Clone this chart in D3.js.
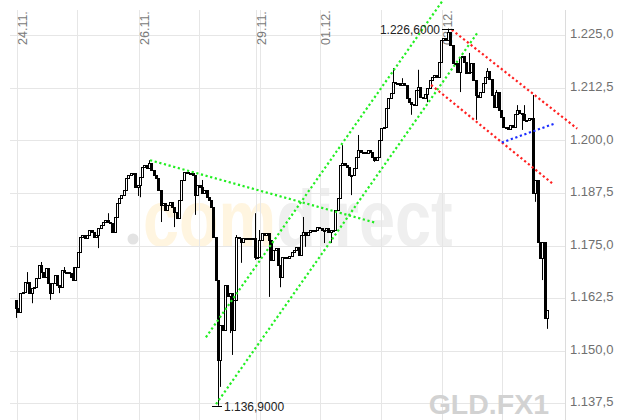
<!DOCTYPE html>
<html><head><meta charset="utf-8">
<script src="https://cdn.jsdelivr.net/npm/d3@7"></script>
<style>body{margin:0;background:#fff}svg{display:block}</style>
</head><body>
<svg id="chart" width="621" height="420"></svg>
<script>
// ---- data (GLD.FX1, prices) ----
const firstOpen = 1162.0;
const closes = [
1160.2,1159.2,1163.7,1164.0,1166.3,1166.3,1163.7,1164.9,1165.2,1167.3,
1170.4,1168.7,1167.5,1169.7,1166.1,1163.7,1166.1,1168.0,1165.6,1165.2,
1169.2,1168.7,1168.7,1168.5,1167.5,1166.8,1169.9,1173.5,1177.0,1177.5,
1176.8,1177.5,1178.7,1178.2,1177.0,1177.5,1179.2,1179.9,1180.6,1181.1,
1180.6,1180.4,1178.2,1181.8,1185.1,1186.3,1187.0,1188.2,1191.1,1191.8,
1192.3,1192.3,1188.9,1189.4,1191.3,1193.7,1194.2,1193.4,1194.6,1193.0,
1191.8,1191.1,1188.2,1184.6,1185.1,1183.5,1184.6,1185.4,1184.2,1183.0,
1181.6,1185.8,1190.6,1192.5,1192.5,1192.3,1192.3,1191.8,1187.0,1189.4,
1188.9,1187.5,1188.2,1186.5,1185.8,1184.2,1177.0,1166.8,1147.8,1156.1,
1155.0,1165.6,1163.0,1163.7,1155.0,1162.1,1177.0,1176.8,1175.9,1176.8,
1176.8,1176.8,1176.8,1176.8,1172.3,1172.3,1176.3,1178.0,1177.5,1178.0,
1176.3,1171.6,1173.9,1174.4,1170.4,1167.5,1172.3,1172.3,1172.0,1172.5,
1173.5,1173.9,1174.7,1172.8,1177.5,1178.2,1177.5,1178.2,1178.7,1178.7,
1178.7,1179.4,1179.2,1178.7,1178.7,1179.2,1178.2,1178.7,1178.7,1183.5,
1186.3,1194.2,1194.6,1194.2,1193.7,1191.8,1191.8,1193.4,1196.1,1197.7,
1197.2,1197.2,1197.0,1197.7,1197.2,1196.1,1195.4,1196.1,1200.1,1203.0,
1203.2,1207.7,1210.1,1211.3,1213.9,1213.7,1213.7,1213.2,1213.7,1213.2,
1210.1,1209.1,1208.7,1208.4,1212.0,1212.7,1210.3,1210.1,1211.0,1212.5,
1214.4,1215.1,1215.5,1215.1,1218.6,1223.9,1224.4,1223.9,1225.8,1222.7,
1218.4,1218.4,1216.3,1219.8,1220.1,1218.6,1216.0,1216.3,1218.4,1214.4,
1210.8,1210.3,1211.5,1213.7,1215.1,1216.5,1214.6,1210.8,1207.9,1211.5,
1207.2,1205.6,1203.2,1203.2,1202.7,1203.7,1203.2,1206.3,1207.2,1206.5,
1206.3,1204.8,1204.8,1205.3,1205.3,1187.5,1190.6,1175.9,1172.0,1175.9,
1157.8,1159.7];
// notable wick extremes [candle index, price]
const highWicks = [[5,1168.7],[11,1171.1],[21,1169.9],[25,1169.9],[40,1182.7],[58,1195.3],[81,1190.6],
[96,1177.5],[104,1182.7],[106,1178.7],[125,1181.8],[142,1198.9],[149,1201.3],[164,1217.2],[168,1214.8],
[175,1216.8],[188,1226.6],[197,1220.8],[205,1217.2],[209,1212.0],[218,1208.4],[221,1208.4],[225,1210.8]];
const lowWicks = [[0,1157.8],[7,1161.3],[15,1162.1],[19,1163.7],[36,1174.4],[53,1186.8],[54,1186.5],
[63,1180.6],[69,1179.4],[78,1182.3],[88,1136.9],[89,1141.4],[93,1154.2],[94,1149.0],[98,1170.9],
[104,1171.6],[110,1162.8],[115,1165.1],[126,1174.7],[134,1175.6],[137,1175.6],[146,1187.0],[156,1194.9],
[172,1206.1],[179,1209.1],[193,1211.5],[200,1204.9],[214,1202.5],[220,1202.5],[226,1185.4],[229,1166.8],[231,1155.2]];
const yTicks = [1137.5,1150,1162.5,1175,1187.5,1200,1212.5,1225];
const dateLabels = ["24.11.","26.11.","29.11.","01.12.","02.12."];
const dateIdx = [0,53,104,132,185];
const gridIdx = [0,26.4,52.8,79.2,105.6,132,158.4,184.8,211.2];
const highMark = {i:188, p:1226.6};
const lowMark = {i:88, p:1136.9};
// trendlines: [[idx, price],[idx, price]]
const greenLines = [
  [[58.0,1195.3],[155.6,1180.5]],
  [[86.7,1137.3],[200.7,1225.9]],
  [[82.3,1153.2],[185.4,1233.4]]];
const redLines = [
  [[189.2,1226.3],[243.7,1202.8]],
  [[180.2,1213.2],[233.3,1189.6]]];
const blueLines = [[[210.9,1199.5],[234.3,1204.1]]];

// ---- chart ----
const svg = d3.select("#chart");
const L = 10, R = 565, T = 10, B = 420;
const x = d3.scaleLinear().domain([0, closes.length-1]).range([16.6, 548]);
const y = d3.scaleLinear().domain([1137.5, 1225]).range([403.3, 35.3]);
const de = d3.formatLocale({decimal:",", thousands:".", grouping:[3], currency:["","€"]});
const fmt1 = de.format(",.1f"), fmt4 = de.format(",.4f");
const font = "'Liberation Sans', Arial, sans-serif";

// watermark (single text, two colours)
const wm = svg.append("g");
wm.append("circle").attr("cx",133).attr("cy",239).attr("r",5.5).attr("fill","#e3e3e3");
const logo = wm.append("text").attr("transform","translate(143,246) scale(0.81,1)")
  .attr("font-family",font).attr("font-weight","bold").attr("font-size",80);
logo.append("tspan").attr("fill","#fff5e0").text("com");
logo.append("tspan").attr("fill","#efefef").text("direct");

// grid
const grid = svg.append("g").attr("stroke","#e6e6e6").attr("stroke-width",1);
yTicks.forEach(t => {
  const yy = Math.round(y(t)) + 0.5;
  grid.append("line").attr("x1",L).attr("x2",R).attr("y1",yy).attr("y2",yy);
});
const vLines = dateIdx.slice();
gridIdx.forEach(g => { if (!dateIdx.some(d => Math.abs(d-g) < 1)) vLines.push(g); });
vLines.forEach(i => {
  const xx = Math.round(x(i)) + 0.5;
  grid.append("line").attr("x1",xx).attr("x2",xx).attr("y1",T).attr("y2",B);
});
svg.append("line").attr("x1",R+0.5).attr("x2",R+0.5).attr("y1",T).attr("y2",B).attr("stroke","#dcdcdc");

// y axis labels
const yAxis = d3.axisRight(y).tickValues(yTicks).tickFormat(fmt1).tickSize(0).tickPadding(5);
const ya = svg.append("g").attr("transform",`translate(${R},-1.5)`).call(yAxis);
ya.select(".domain").remove();
ya.selectAll("text").attr("font-family",font).attr("font-size",13).attr("fill","#707070");

// date labels
dateLabels.forEach((lab, k) => {
  const xx = Math.round(x(dateIdx[k])) + 5.5;
  svg.append("text").attr("transform",`translate(${xx},45) rotate(-90)`)
    .attr("dy","0.36em").attr("font-family",font).attr("font-size",12.5).attr("fill","#7a7a7a").text(lab);
});

// candles
const hw = new Map(highWicks), lw = new Map(lowWicks);
const cg = svg.append("g");
closes.forEach((c, i) => {
  const o = i === 0 ? firstOpen : closes[i-1];
  const cx = Math.round(x(i));
  const top = y(Math.max(o,c)), bot = y(Math.min(o,c));
  const hi = hw.has(i) ? y(hw.get(i)) : top;
  const lo = lw.has(i) ? y(lw.get(i)) : bot;
  if (hi < top - 0.5) cg.append("line").attr("x1",cx-0.5).attr("x2",cx-0.5).attr("y1",hi).attr("y2",top).attr("stroke","#000");
  if (lo > bot + 0.5) cg.append("line").attr("x1",cx-0.5).attr("x2",cx-0.5).attr("y1",bot).attr("y2",lo).attr("stroke","#000");
  cg.append("rect").attr("x",cx-1.5).attr("width",2).attr("y",Math.round(top)+0.5)
    .attr("height",Math.max(1, Math.round(bot)-Math.round(top)))
    .attr("fill", c >= o ? "#fff" : "#000").attr("stroke","#000").attr("stroke-width",1);
});

// trendlines
function drawLines(arr, col) {
  arr.forEach(seg => {
    svg.append("line").attr("x1",x(seg[0][0])).attr("y1",y(seg[0][1]))
      .attr("x2",x(seg[1][0])).attr("y2",y(seg[1][1]))
      .attr("stroke",col).attr("stroke-width",2.2).attr("stroke-dasharray","2.2 2.6");
  });
}
drawLines(greenLines, "#22ee22");
drawLines(redLines, "#ff2020");
drawLines(blueLines, "#1a2cff");

// extreme markers
const hx = Math.round(x(highMark.i)), hy = Math.round(y(highMark.p)) + 0.5;
svg.append("line").attr("x1",hx-7).attr("x2",hx+5).attr("y1",hy).attr("y2",hy).attr("stroke","#000");
svg.append("text").attr("x",hx-9).attr("y",hy).attr("dy","0.35em").attr("text-anchor","end")
  .attr("font-family",font).attr("font-size",12).attr("fill","#222").text(fmt4(highMark.p));
const lx = Math.round(x(lowMark.i)), ly = Math.round(y(lowMark.p)) + 0.5;
svg.append("line").attr("x1",lx-7).attr("x2",lx+3).attr("y1",ly).attr("y2",ly).attr("stroke","#000");
svg.append("text").attr("x",lx+5).attr("y",ly).attr("dy","0.35em")
  .attr("font-family",font).attr("font-size",12).attr("fill","#222").text(fmt4(lowMark.p));

// symbol watermark
svg.append("text").attr("x",549).attr("y",414).attr("text-anchor","end").attr("font-family",font)
  .attr("font-weight","bold").attr("font-size",28.5).attr("fill","#d2d2d2").text("GLD.FX1");
</script>
</body></html>
